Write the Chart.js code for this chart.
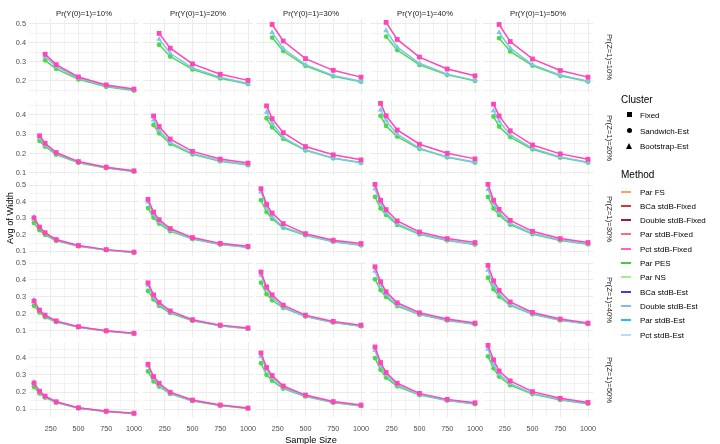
<!DOCTYPE html>
<html>
<head>
<meta charset="utf-8">
<title>Avg of Width</title>
<script src="https://cdn.jsdelivr.net/npm/chart.js@4.4.0/dist/chart.umd.min.js"></script>
<style>
    body {
        margin: 0;
        background: #fff;
        font-family: "Liberation Sans", Arial, sans-serif;
    }
    #wrap {
        position: relative;
        width: 720px;
        height: 444px;
        overflow: hidden;
    }
    #wrap canvas { position: absolute; }
    .txt {
        position: absolute;
        white-space: nowrap;
        transform: translate(-50%, -50%);
    }
    .strip { font-size: 7.7px; color: #1a1a1a; }
    .title { font-size: 9.2px; color: #000; }
    .lgTitle { position: absolute; font-size: 10px; color: #000; transform: translateY(-50%); }
    .lgText { position: absolute; font-size: 8px; color: #000; transform: translateY(-50%); white-space: nowrap; }
    .key { position: absolute; }
</style>
</head>
<body>
<div id="wrap"></div>

<script>
// facet labels
const colLabels = ['Pr(Y(0)=1)=10%', 'Pr(Y(0)=1)=20%', 'Pr(Y(0)=1)=30%', 'Pr(Y(0)=1)=40%', 'Pr(Y(0)=1)=50%'];
const rowLabels = ['Pr(Z=1)=10%', 'Pr(Z=1)=20%', 'Pr(Z=1)=30%', 'Pr(Z=1)=40%', 'Pr(Z=1)=50%'];

// sample sizes per row (the smaller designs start later)
const sizesRow1 = [200, 300, 500, 750, 1000];
const sizesRow2 = [150, 200, 300, 500, 750, 1000];
const sizesRow3to5 = [100, 150, 200, 300, 500, 750, 1000];
const sizesByRow = [sizesRow1, sizesRow2, sizesRow3to5, sizesRow3to5, sizesRow3to5];

const xTickLabels = [250, 500, 750, 1000];
const xGridLines = [125, 250, 375, 500, 625, 750, 875, 1000];

// avg width, [row][col][sample size]
const fixedWidth = [
    [[0.34, 0.285, 0.22, 0.178, 0.156], [0.45, 0.372, 0.289, 0.234, 0.202], [0.497, 0.41, 0.317, 0.255, 0.219], [0.508, 0.418, 0.325, 0.262, 0.226], [0.497, 0.407, 0.315, 0.254, 0.219]],
    [[0.292, 0.253, 0.205, 0.158, 0.129, 0.11], [0.395, 0.34, 0.275, 0.211, 0.171, 0.15], [0.447, 0.381, 0.308, 0.236, 0.193, 0.167], [0.46, 0.396, 0.322, 0.248, 0.201, 0.172], [0.456, 0.395, 0.318, 0.244, 0.198, 0.17]],
    [[0.302, 0.247, 0.213, 0.171, 0.135, 0.11, 0.095], [0.415, 0.338, 0.292, 0.238, 0.183, 0.148, 0.13], [0.48, 0.385, 0.332, 0.268, 0.207, 0.167, 0.147], [0.506, 0.41, 0.353, 0.284, 0.217, 0.177, 0.153], [0.506, 0.41, 0.355, 0.288, 0.221, 0.177, 0.153]],
    [[0.275, 0.222, 0.192, 0.158, 0.124, 0.1, 0.085], [0.383, 0.312, 0.267, 0.217, 0.165, 0.133, 0.116], [0.447, 0.359, 0.312, 0.251, 0.192, 0.155, 0.133], [0.478, 0.39, 0.33, 0.265, 0.206, 0.169, 0.145], [0.486, 0.395, 0.338, 0.27, 0.208, 0.169, 0.145]],
    [[0.252, 0.205, 0.176, 0.143, 0.108, 0.088, 0.076], [0.362, 0.29, 0.251, 0.199, 0.153, 0.124, 0.106], [0.428, 0.343, 0.296, 0.235, 0.182, 0.144, 0.124], [0.463, 0.372, 0.314, 0.251, 0.192, 0.157, 0.137], [0.472, 0.388, 0.323, 0.265, 0.202, 0.163, 0.139]]
];
const estWidth = [
    [[0.328, 0.275, 0.213, 0.172, 0.151], [0.42, 0.345, 0.268, 0.218, 0.186], [0.455, 0.37, 0.285, 0.228, 0.197], [0.465, 0.377, 0.292, 0.235, 0.202], [0.455, 0.372, 0.285, 0.23, 0.198]],
    [[0.28, 0.245, 0.199, 0.155, 0.127, 0.108], [0.374, 0.32, 0.258, 0.2, 0.163, 0.142], [0.414, 0.357, 0.283, 0.219, 0.177, 0.153], [0.426, 0.37, 0.3, 0.228, 0.182, 0.156], [0.422, 0.368, 0.298, 0.227, 0.182, 0.155]],
    [[0.31, 0.245, 0.207, 0.168, 0.132, 0.108, 0.093], [0.4, 0.325, 0.28, 0.228, 0.177, 0.143, 0.125], [0.46, 0.368, 0.31, 0.248, 0.2, 0.16, 0.138], [0.48, 0.39, 0.335, 0.268, 0.207, 0.168, 0.143], [0.476, 0.39, 0.335, 0.27, 0.209, 0.169, 0.145]],
    [[0.282, 0.218, 0.187, 0.155, 0.121, 0.099, 0.084], [0.37, 0.3, 0.257, 0.21, 0.161, 0.13, 0.113], [0.428, 0.345, 0.298, 0.24, 0.186, 0.15, 0.128], [0.452, 0.37, 0.315, 0.252, 0.198, 0.163, 0.14], [0.458, 0.37, 0.318, 0.255, 0.2, 0.164, 0.14]],
    [[0.258, 0.2, 0.172, 0.14, 0.106, 0.087, 0.075], [0.352, 0.28, 0.242, 0.193, 0.15, 0.122, 0.105], [0.408, 0.33, 0.284, 0.226, 0.177, 0.14, 0.12], [0.443, 0.355, 0.3, 0.24, 0.185, 0.152, 0.132], [0.45, 0.36, 0.305, 0.25, 0.192, 0.156, 0.134]]
];
const pesWidth = [
    [[0.308, 0.263, 0.207, 0.168, 0.148], [0.39, 0.328, 0.26, 0.213, 0.183], [0.428, 0.357, 0.279, 0.224, 0.195], [0.433, 0.362, 0.284, 0.231, 0.2], [0.425, 0.355, 0.28, 0.226, 0.196]],
    [[0.265, 0.236, 0.194, 0.152, 0.124, 0.106], [0.348, 0.305, 0.25, 0.196, 0.16, 0.14], [0.383, 0.336, 0.276, 0.216, 0.175, 0.152], [0.395, 0.343, 0.288, 0.224, 0.18, 0.153], [0.392, 0.34, 0.285, 0.222, 0.179, 0.153]],
    [[0.272, 0.228, 0.2, 0.164, 0.13, 0.107, 0.092], [0.362, 0.305, 0.268, 0.222, 0.174, 0.141, 0.124], [0.41, 0.338, 0.298, 0.243, 0.197, 0.158, 0.136], [0.43, 0.36, 0.32, 0.26, 0.203, 0.166, 0.141], [0.43, 0.36, 0.32, 0.262, 0.205, 0.166, 0.142]],
    [[0.247, 0.208, 0.18, 0.152, 0.12, 0.098, 0.083], [0.335, 0.285, 0.247, 0.205, 0.159, 0.129, 0.112], [0.384, 0.316, 0.28, 0.235, 0.184, 0.149, 0.127], [0.404, 0.34, 0.3, 0.246, 0.195, 0.161, 0.138], [0.413, 0.345, 0.302, 0.25, 0.197, 0.162, 0.139]],
    [[0.229, 0.192, 0.168, 0.138, 0.105, 0.086, 0.074], [0.32, 0.262, 0.232, 0.189, 0.148, 0.121, 0.104], [0.368, 0.3, 0.266, 0.22, 0.174, 0.138, 0.119], [0.398, 0.33, 0.284, 0.233, 0.182, 0.15, 0.13], [0.408, 0.338, 0.29, 0.24, 0.188, 0.154, 0.132]]
];

const clusterNames = ['Fixed', 'Sandwich-Est', 'Bootstrap-Est'];
const methodNames = ['Par FS', 'BCa stdB-Fixed', 'Double stdB-Fixed', 'Par stdB-Fixed', 'Pct stdB-Fixed',
    'Par PES', 'Par NS', 'BCa stdB-Est', 'Double stdB-Est', 'Par stdB-Est', 'Pct stdB-Est'];
const methodColors = ['#ffa35c', '#d8343f', '#a0174a', '#f27373', '#ff5fd0',
    '#44cc44', '#a4ec94', '#3c3cdc', '#88b8ee', '#1ebeff', '#b6ddf4'];

// series drawn in the panels (first one ends up on top)
const series = [
    { values: fixedWidth, color: '#ff45b8', shape: 'rect', radius: 3.4 },
    { values: estWidth, color: '#7cc8ea', shape: 'triangle', radius: 3.2 },
    { values: pesWidth, color: '#4cd84c', shape: 'circle', radius: 2.4 }
];

// layout (px); PADT/PADR give room for labels that stick out of the panel
const PW = 110, PH = 75, AXW = 29, AXH = 20, PADT = 6, PADR = 10;
const panelLeft = [29, 143, 256, 370, 483];
const panelTop = [19, 100, 181, 262, 342];

const wrap = document.getElementById('wrap');

function addText(cls, text, x, y, extra) {
    const d = document.createElement('div');
    d.className = cls;
    d.textContent = text;
    d.style.left = x + 'px';
    d.style.top = y + 'px';
    if (extra) d.style.transform = extra;
    wrap.appendChild(d);
    return d;
}

// y range per row, like ggplot: data range plus 5%
function rowRange(r) {
    let lo = Infinity, hi = -Infinity;
    series.forEach(s => s.values[r].forEach(arr => arr.forEach(v => {
        lo = Math.min(lo, v); hi = Math.max(hi, v);
    })));
    const pad = (hi - lo) * 0.05;
    return { min: lo - pad, max: hi + pad };
}

function yGrid(range) {
    const out = [];
    for (let k = Math.ceil(range.min * 20); k <= Math.floor(range.max * 20); k++) out.push(k / 20);
    return out;
}

const isMajorY = v => Math.round(v * 100) % 10 === 0;
const gridColor = '#ebebeb';

function makePanel(r, c) {
    const cv = document.createElement('canvas');
    const w = PW + AXW + PADR, h = PH + AXH + PADT;
    cv.width = w; cv.height = h;
    cv.style.left = (panelLeft[c] - AXW) + 'px';
    cv.style.top = (panelTop[r] - PADT) + 'px';
    wrap.appendChild(cv);

    const range = rowRange(r);
    const yTicks = yGrid(range);
    const xs = sizesByRow[r];

    new Chart(cv, {
        type: 'line',
        data: {
            datasets: series.map(s => ({
                data: xs.map((x, i) => ({ x: x, y: s.values[r][c][i] })),
                borderColor: s.color,
                backgroundColor: s.color,
                borderWidth: 1.5,
                pointStyle: s.shape,
                pointRadius: s.radius,
                pointBorderWidth: 0,
                pointBackgroundColor: s.color,
                tension: 0,
                clip: 6
            }))
        },
        options: {
            responsive: false,
            animation: false,
            events: [],
            layout: { padding: { top: PADT, right: PADR, left: 0, bottom: 0 }, autoPadding: false },
            plugins: { legend: { display: false }, tooltip: { enabled: false } },
            scales: {
                x: {
                    type: 'linear',
                    min: 55,
                    max: 1045,
                    afterBuildTicks: s => { s.ticks = xGridLines.map(v => ({ value: v })); },
                    afterFit: s => { s.height = AXH; s.paddingLeft = 0; s.paddingRight = 0; },
                    border: { display: false },
                    grid: {
                        drawTicks: false,
                        color: gridColor,
                        lineWidth: ctx => xTickLabels.includes(ctx.tick.value) ? 1 : 0.6
                    },
                    ticks: {
                        display: r === 4,
                        autoSkip: false,
                        maxRotation: 0,
                        padding: 8,
                        color: '#4d4d4d',
                        font: { family: '"Liberation Sans", Arial, sans-serif', size: 7.2 },
                        callback: v => xTickLabels.includes(v) ? String(v) : ''
                    }
                },
                y: {
                    min: range.min,
                    max: range.max,
                    afterBuildTicks: s => { s.ticks = yTicks.map(v => ({ value: v })); },
                    afterFit: s => { s.width = AXW; s.paddingTop = 0; s.paddingBottom = 0; },
                    border: { display: false },
                    grid: {
                        drawTicks: false,
                        color: gridColor,
                        lineWidth: ctx => isMajorY(ctx.tick.value) ? 1 : 0.6
                    },
                    ticks: {
                        display: c === 0,
                        autoSkip: false,
                        padding: 3,
                        color: '#4d4d4d',
                        font: { family: '"Liberation Sans", Arial, sans-serif', size: 7.4 },
                        callback: v => isMajorY(v) ? v.toFixed(1) : ''
                    }
                }
            }
        }
    });
}

for (let r = 0; r < 5; r++) {
    for (let c = 0; c < 5; c++) makePanel(r, c);
}

// strips
colLabels.forEach((t, c) => addText('txt strip', t, panelLeft[c] + PW / 2, 13));
rowLabels.forEach((t, r) => addText('txt strip', t, 609, panelTop[r] + PH / 2, 'translate(-50%, -50%) rotate(90deg)'));

// axis titles
addText('txt title', 'Sample Size', (panelLeft[0] + panelLeft[4] + PW) / 2, 440);
addText('txt title', 'Avg of Width', 10, (panelTop[0] + panelTop[4] + PH) / 2, 'translate(-50%, -50%) rotate(-90deg)');

// legend
function addLegendTitle(t, y) {
    const d = document.createElement('div');
    d.className = 'lgTitle';
    d.textContent = t;
    d.style.left = '621px';
    d.style.top = y + 'px';
    wrap.appendChild(d);
}
function addLegendText(t, y) {
    const d = document.createElement('div');
    d.className = 'lgText';
    d.textContent = t;
    d.style.left = '640px';
    d.style.top = y + 'px';
    wrap.appendChild(d);
}
function addKey(css) {
    const d = document.createElement('div');
    d.className = 'key';
    Object.assign(d.style, css);
    wrap.appendChild(d);
}

addLegendTitle('Cluster', 99);
const clusterY = [115, 130.5, 145.5];
clusterNames.forEach((n, i) => {
    const y = Math.round(clusterY[i]);
    if (i === 0) addKey({ left: '627px', top: (y - 3) + 'px', width: '5px', height: '5px', background: '#000' });
    if (i === 1) addKey({ left: '627px', top: (y - 3) + 'px', width: '5px', height: '5px', background: '#000', borderRadius: '50%' });
    if (i === 2) addKey({ left: '626px', top: (y - 3) + 'px', width: 0, height: 0,
        borderLeft: '3.5px solid transparent', borderRight: '3.5px solid transparent', borderBottom: '6px solid #000' });
    addLegendText(n, y);
});

addLegendTitle('Method', 174);
methodNames.forEach((n, i) => {
    const y = 191.5 + i * 14.3;
    addKey({ left: '621px', top: Math.round(y - 1) + 'px', width: '10px', height: '2px', background: methodColors[i] });
    addLegendText(n, y);
});
</script>
</body>
</html>
